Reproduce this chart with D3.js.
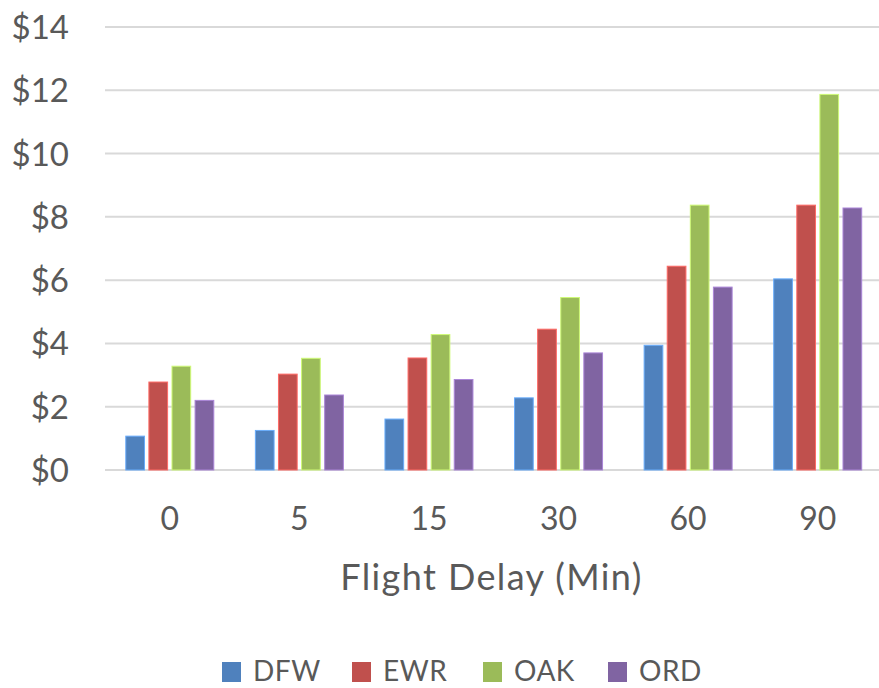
<!DOCTYPE html>
<html>
<head>
<meta charset="utf-8">
<script src="https://cdn.jsdelivr.net/npm/d3@7"></script>
<style>
  html, body { margin: 0; padding: 0; background: #fff; }
  svg { display: block; font-family: Lato, "Open Sans", sans-serif; }
</style>
</head>
<body>
<svg id="chart" width="879" height="688"></svg>
<script>
const categories = ["0", "5", "15", "30", "60", "90"];
const seriesNames = ["DFW", "EWR", "OAK", "ORD"];
const DFW = [1.07, 1.25, 1.61, 2.28, 3.94, 6.04];
const EWR = [2.78, 3.03, 3.54, 4.45, 6.44, 8.37];
const OAK = [3.28, 3.53, 4.28, 5.45, 8.37, 11.87];
const ORD = [2.20, 2.37, 2.86, 3.70, 5.78, 8.28];
const yTicks = [0, 2, 4, 6, 8, 10, 12, 14];
const colors = ["#4F81BD", "#C0504D", "#9BBB59", "#8064A2"];
const xTitle = "Flight Delay (Min)";

const seriesValues = [DFW, EWR, OAK, ORD];
const svg = d3.select("#chart");

const plot = { left: 105, right: 882.5, top: 27, bottom: 470 };

const y = d3.scaleLinear().domain([0, 14]).range([plot.bottom, plot.top]);
const x0 = d3.scaleBand().domain(categories).range([plot.left, plot.right]).padding(0);
const x1 = d3.scaleBand().domain(seriesNames).range([-44, 44]).paddingInner(0.19).paddingOuter(0);

// gridlines
svg.append("g").selectAll("line").data(yTicks).join("line")
  .attr("x1", plot.left).attr("x2", plot.right)
  .attr("y1", d => y(d)).attr("y2", d => y(d))
  .attr("stroke", "#D9D9D9").attr("stroke-width", 2);

// y axis labels
const yAxis = d3.axisLeft(y).tickValues(yTicks).tickFormat(d => "$" + d).tickSize(0).tickPadding(0);
const yg = svg.append("g").attr("transform", `translate(69,0)`).call(yAxis);
yg.select(".domain").remove();
yg.selectAll("text").attr("fill", "#595959").attr("font-size", 33).attr("font-family", "Lato, 'Open Sans', sans-serif").attr("dy", "0.35em");

// bars
const groups = svg.append("g").selectAll("g").data(categories).join("g")
  .attr("transform", d => `translate(${x0(d) + x0.bandwidth() / 2},0)`);
groups.selectAll("rect")
  .data((c, i) => seriesNames.map((s, j) => ({ s, j, v: seriesValues[j][i] })))
  .join("rect")
  .attr("x", d => x1(d.s))
  .attr("width", x1.bandwidth())
  .attr("y", d => y(d.v))
  .attr("height", d => y(0) - y(d.v))
  .attr("fill", d => colors[d.j])
  .attr("stroke", d => d3.color(colors[d.j]).brighter(0.8))
  .attr("stroke-width", 1);

// x axis labels
const xAxis = d3.axisBottom(x0).tickSize(0).tickPadding(0);
const xg = svg.append("g").attr("transform", `translate(0,${plot.bottom})`).call(xAxis);
xg.select(".domain").remove();
xg.selectAll("text").attr("fill", "#595959").attr("font-size", 32).attr("font-family", "Lato, 'Open Sans', sans-serif")
  .attr("dy", null).attr("y", 60);

// axis title
svg.append("text").attr("x", 491.5).attr("y", 590)
  .attr("text-anchor", "middle").attr("fill", "#595959").attr("font-size", 36)
  .attr("letter-spacing", 1.4)
  .text(xTitle);

// legend
const legendX = [222, 352, 483, 608];
const lg = svg.append("g").selectAll("g").data(seriesNames).join("g")
  .attr("transform", (d, i) => `translate(${legendX[i]},0)`);
lg.append("rect").attr("x", 0).attr("y", 662).attr("width", 19).attr("height", 20)
  .attr("fill", (d, i) => colors[i]);
lg.append("text").attr("x", 31).attr("y", 681).attr("fill", "#595959").attr("font-size", 28)
  .attr("letter-spacing", 0.5)
  .text(d => d);
</script>
</body>
</html>
